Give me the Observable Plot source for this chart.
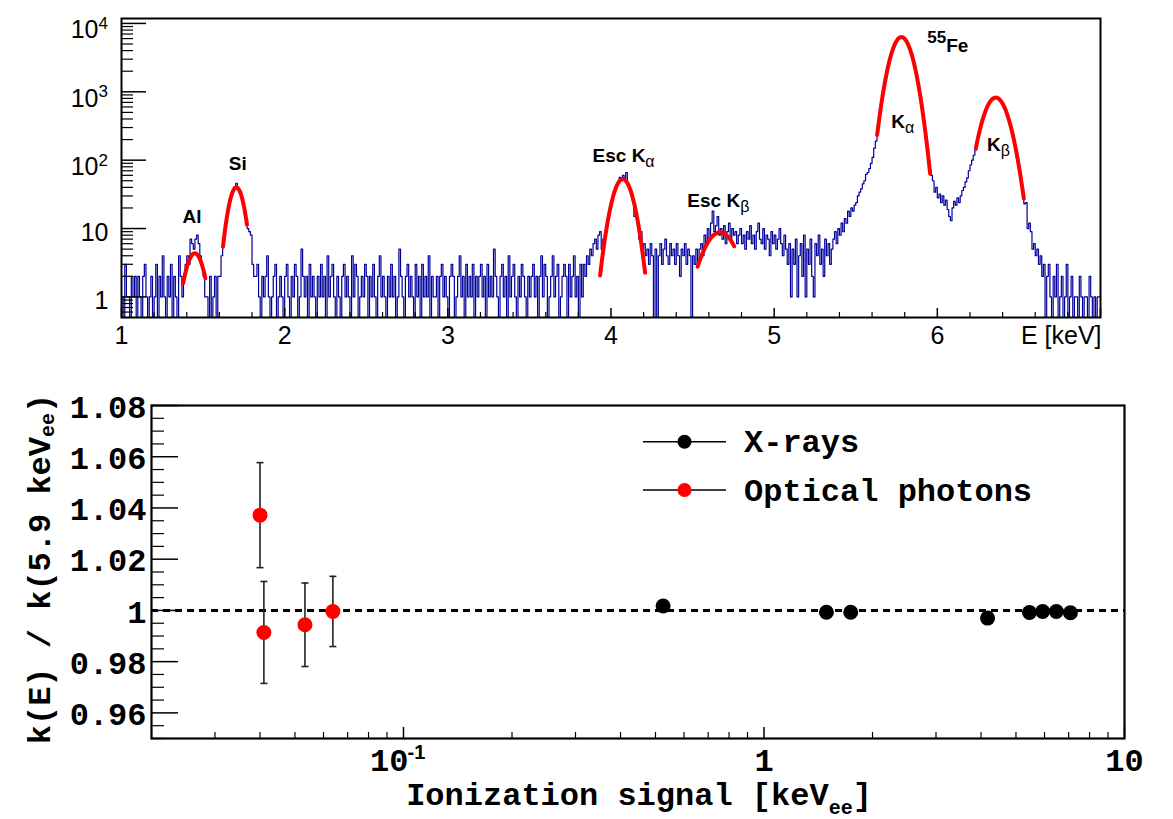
<!DOCTYPE html>
<html>
<head>
<meta charset="utf-8">
<script src="https://cdn.jsdelivr.net/npm/d3@7"></script>
<script src="https://cdn.jsdelivr.net/npm/@observablehq/plot@0.6"></script>
<style>
  body { margin: 0; background: #fff; }
  #chart { position: relative; width: 1173px; height: 819px; background: #fff; }
  #chart svg { position: absolute; left: 0; overflow: visible; }
</style>
</head>
<body>
<div id="chart"></div>
<script>
// ---------- Energy spectrum (top) ----------
// Histogram: 0.01 keV bins starting at 1.00 keV
const binLow = 1.0;
const binWidth = 0.01;
const counts = [
  // 1.00 - 1.37
  1,0,3,1,1,0,2,1,2,0, 2,1,0,2,3,1,0,1,2,0, 1,3,0,2,1,4,1,0,2,1, 3,0,2,1,0,4,2,1,
  // 1.38 - 1.51 (Al)
  2,3,4,3,7,6,5,7,8,6,4,3,2,1,
  // 1.52 - 1.59
  1,0,2,0,1,2,0,2,
  // 1.60 - 1.81 (Si)
  2,4,6,10,15,19,26,30,36,41,46,37,36,29,25,19,14,10,9,8,3,2,
  // 1.82 - 3.87
  2,3,1,0,2,1,2,4,1,0,
  1,2,3,0,1,2,1,0,2,3,
  1,0,2,1,3,2,0,1,5,2,
  1,2,0,3,1,2,1,0,2,1,
  3,1,2,0,4,1,2,3,1,0,
  2,1,0,2,3,1,2,1,0,4,
  1,3,2,0,1,2,1,3,2,0,
  2,1,3,1,0,2,4,1,2,1,
  0,2,1,3,1,2,0,1,5,2,
  1,0,2,3,1,2,1,0,3,1,
  2,0,3,1,2,1,4,0,2,1,
  1,2,0,2,3,1,2,1,0,2,
  3,2,0,1,2,4,1,2,0,3,
  1,2,1,3,0,2,1,2,3,1,
  2,0,3,1,2,1,5,2,1,0,
  2,3,1,2,0,4,1,2,3,1,
  0,2,1,3,2,1,0,2,1,2,
  3,1,2,0,2,4,1,3,2,0,
  1,2,4,1,2,3,0,1,2,3,
  2,0,3,1,2,4,1,2,0,3,
  1,3,2,4,3,5,
  // 3.88 - 4.21 (escape K-alpha)
  4,6,7,5,8,9,5,7,8,11, 15,19,24,31,36,43,48,56,50,60, 55,66,42,39,32,26,15,17,12,7, 9,5,6,4,
  // 4.22 - 4.52
  5,3,6,4,0,5,0,4,6,3, 5,7,4,3,6,4,5,3,6,4, 2,5,4,6,3,5,4,0,4,3, 5,
  // 4.53 - 4.78 (escape K-beta)
  3,5,6,4,8,6,10,7,12,18, 9,11,15,8,10,7,11,6,9,12, 7,10,8,9,6,8,
  // 4.79 - 5.09
  10,6,8,5,9,7,11,6,8,5, 9,12,7,6,10,5,8,7,4,9, 6,8,5,7,10,6,4,8,5,3, 6,
  // 5.10 - 5.35
  1,5,3,7,1,4,6,2,8,1, 5,3,7,2,1,6,4,8,3,5, 2,7,4,6,3,5,
  // 5.36 - 5.62
  7,9,6,10,8,12,9,14,12,18, 15,20,18,22,24,30,34,38,45,50, 62,66,75,90,110,150,190,
  // 5.63 - 5.95 (55Fe K-alpha)
  277,420,619,884,1227,1650,2156,2735,3368,4025, 4670,5260,5750,6103,6287,6287,6103,5750,5260,4670,
  4025,3368,2735,2156,1650,1227,884,619,420,277, 177,110,72,
  // 5.96 - 6.23
  60,50,34,40,28,32,24,30,22,26, 19,15,13,20,25,22,28,24,30,36, 40,48,55,70,85,100,118,140,
  // 6.24 - 6.53 (55Fe K-beta)
  190,243,305,373,446,521,595,665,725,774, 806,840,835,795,756,703,638,566,491,416,
  345,279,221,171,129,95,69,49,34,23,
  // 6.54 - 6.99
  24,10,12,9,5,6,4,5,3,4, 2,3,0,2,3,1,0,2,1,3, 0,1,2,0,1,3,0,1,2,0, 1,1,0,2,1,0,1,1,0,2, 1,0,1,0,1,1
];

// Gaussian fits to the peaks
const fitPeak  = ["Al", "Si", "Esc Ka", "Esc Kb", "Ka", "Kb"];
const fitMean  = [1.449, 1.704, 4.072, 4.668, 5.780, 6.358];
const fitSigma = [0.050, 0.041, 0.0545, 0.090, 0.058, 0.066];
const fitAmp   = [4.35, 40, 53, 8.8, 6310, 822];
const fitLow   = [1.378, 1.622, 3.933, 4.531, 5.631, 6.236];
const fitHigh  = [1.514, 1.769, 4.209, 4.755, 5.956, 6.530];

// Peak annotations (anchored in keV / counts)
const peakLabels = [
  {main: "Al",    e: 1.435, c: 11.8, anchor: "middle"},
  {main: "Si",    e: 1.716, c: 70.6, anchor: "middle"},
  {main: "Esc K", sub: "α", e: 3.89,  c: 92.4, anchor: "start"},
  {main: "Esc K", sub: "β", e: 4.471, c: 20.3, anchor: "start"},
  {sup: "55", main: "Fe",   e: 5.941, c: 3755, anchor: "start"},
  {main: "K", sub: "α",     e: 5.72,  c: 290,  anchor: "start"},
  {main: "K", sub: "β",     e: 6.308, c: 134,  anchor: "start"}
];

const topXLabels = [1, 2, 3, 4, 5, 6];
const topYDecades = [1, 10, 100, 1000, 10000];

// ---------- Calibration ratio (bottom) ----------
const xrayEnergy = [0.525, 1.49, 1.74, 4.17, 5.45, 5.93, 6.47, 7.08];
const xrayRatio  = [1.0017, 0.9993, 0.9993, 0.9970, 0.9992, 0.9996, 0.9996, 0.9991];

const opticalEnergy = [0.0400, 0.0410, 0.0533, 0.0637];
const opticalRatio  = [1.0372, 0.9914, 0.9944, 0.9996];
const opticalError  = [0.0205, 0.0199, 0.0163, 0.0137];

const seriesNames  = ["X-rays", "Optical photons"];
const seriesColors = ["#000000", "#ff0000"];

const botYLabels = [0.96, 0.98, 1.00, 1.02, 1.04, 1.06, 1.08];

// ================= drawing =================
const chart = document.getElementById("chart");
const SANS = "Liberation Sans, Arial, Helvetica, sans-serif";
const MONO = "Liberation Mono, Courier New, monospace";

// --- top panel ---
const T = {w: 1173, h: 360, ml: 121, mr: 73, mt: 18, mb: 43};
const tIW = T.w - T.ml - T.mr, tIH = T.h - T.mt - T.mb;
const yMinTop = 0.5;

const hist = counts.map((c, i) => ({e: binLow + i * binWidth, c: Math.max(c, yMinTop)}));
hist.push({e: binLow + counts.length * binWidth, c: hist[hist.length - 1].c});

const fitCurves = fitPeak.map((p, k) => {
  const pts = [];
  const n = 80;
  for (let j = 0; j <= n; j++) {
    const e = fitLow[k] + (fitHigh[k] - fitLow[k]) * j / n;
    pts.push({e, c: fitAmp[k] * Math.exp(-((e - fitMean[k]) ** 2) / (2 * fitSigma[k] ** 2))});
  }
  return pts;
});

const xMinorTop = d3.range(1, 7.001, 0.2).map(v => +v.toFixed(2)).filter(v => Math.abs(v - Math.round(v)) > 1e-6);
const yMinorTop = [];
[0.1, 1, 10, 100, 1000].forEach(dec => { for (let m = 2; m <= 9; m++) { const v = m * dec; if (v >= yMinTop && v <= 11800) yMinorTop.push(v); } });

const topPlot = Plot.plot({
  width: T.w, height: T.h,
  marginLeft: T.ml, marginRight: T.mr, marginTop: T.mt, marginBottom: T.mb,
  style: {background: "transparent", overflow: "visible", fontFamily: SANS},
  x: {domain: [1, 7], axis: null},
  y: {type: "log", domain: [yMinTop, 11800], axis: null},
  marks: [
    Plot.line(hist, {x: "e", y: "c", curve: "step-after", stroke: "#000099", strokeWidth: 1.2, clip: true}),
    ...fitCurves.map(pts => Plot.line(pts, {x: "e", y: "c", stroke: "#ff0000", strokeWidth: 4})),
    // inward ticks
    Plot.tickX(topXLabels.concat([7]), {x: d => d, insetTop: tIH - 9, stroke: "black", strokeWidth: 1.5}),
    Plot.tickX(xMinorTop, {x: d => d, insetTop: tIH - 5, stroke: "black", strokeWidth: 1.2}),
    Plot.tickY(topYDecades, {y: d => d, insetRight: tIW - 25, stroke: "black", strokeWidth: 1.5}),
    Plot.tickY(yMinorTop, {y: d => d, insetRight: tIW - 12, stroke: "black", strokeWidth: 1.2}),
    // tick labels
    Plot.text(topXLabels, {x: d => d, text: d => String(d), frameAnchor: "bottom", lineAnchor: "bottom", dy: 26, fontSize: 25, fontFamily: SANS, fill: "black"}),
    Plot.text(topYDecades.filter(d => d < 100), {y: d => d, text: d => String(d), frameAnchor: "left", textAnchor: "end", lineAnchor: "middle", dx: -13, dy: 4, fontSize: 25, fontFamily: SANS, fill: "black"}),
    Plot.text(topYDecades.filter(d => d >= 100), {y: d => d, text: () => "10", frameAnchor: "left", textAnchor: "end", lineAnchor: "middle", dx: -23, dy: 7, fontSize: 25, fontFamily: SANS, fill: "black"}),
    Plot.text(topYDecades.filter(d => d >= 100), {y: d => d, text: d => String(Math.round(Math.log10(d))), frameAnchor: "left", textAnchor: "start", lineAnchor: "middle", dx: -23, dy: 0, fontSize: 17, fontFamily: SANS, fill: "black"}),
    Plot.text(["E [keV]"], {text: d => d, frameAnchor: "bottom-right", textAnchor: "end", lineAnchor: "bottom", dx: 1, dy: 26, fontSize: 25, fontFamily: SANS, fill: "black"}),
    Plot.frame({stroke: "black", strokeWidth: 2})
  ]
});
topPlot.style.top = "0px";
chart.appendChild(topPlot);

// peak labels with sub/superscripts
const tsx = topPlot.scale("x"), tsy = topPlot.scale("y");
peakLabels.forEach(a => {
  const t = d3.select(topPlot).append("text")
    .attr("x", tsx.apply(a.e)).attr("y", tsy.apply(a.c))
    .attr("text-anchor", a.anchor)
    .attr("font-family", SANS).attr("font-weight", "bold").attr("font-size", 19)
    .attr("fill", "black");
  if (a.sup) {
    t.append("tspan").text(a.sup).attr("font-size", 17).attr("dy", -9);
    t.append("tspan").text(a.main).attr("dy", 9);
  } else {
    t.append("tspan").text(a.main);
  }
  if (a.sub) {
    t.append("tspan").text(a.sub).attr("font-size", 16).attr("font-weight", "normal").attr("dy", 5);
  }
});

// --- bottom panel ---
const B = {w: 1173, h: 459, ml: 151, mr: 49, mt: 45, mb: 81, top: 360};
const bIW = B.w - B.ml - B.mr, bIH = B.h - B.mt - B.mb;

const xrays = xrayEnergy.map((e, i) => ({e, r: xrayRatio[i]}));
const optical = opticalEnergy.map((e, i) => ({e, r: opticalRatio[i], lo: opticalRatio[i] - opticalError[i], hi: opticalRatio[i] + opticalError[i]}));

const xMajorBot = [0.1, 1, 10];
const xMinorBot = [];
[0.01, 0.1, 1].forEach(dec => { for (let m = 2; m <= 9; m++) { const v = m * dec; if (v >= 0.02 && v <= 10) xMinorBot.push(+v.toFixed(3)); } });
const yMinorBot = d3.range(0, 27).map(i => +(0.95 + i * 0.005).toFixed(3)).filter(v => Math.abs(v * 50 - Math.round(v * 50)) > 1e-6);

// horizontal cap for error bars
const capSymbol = {
  draw(ctx, size) {
    const r = Math.sqrt(size / Math.PI);
    ctx.moveTo(-r, 0);
    ctx.lineTo(r, 0);
  }
};

const botPlot = Plot.plot({
  width: B.w, height: B.h,
  marginLeft: B.ml, marginRight: B.mr, marginTop: B.mt, marginBottom: B.mb,
  style: {background: "transparent", overflow: "visible", fontFamily: MONO},
  x: {type: "log", domain: [0.02, 10], axis: null},
  y: {domain: [0.95, 1.08], axis: null},
  marks: [
    Plot.ruleY([1], {stroke: "black", strokeWidth: 3, strokeDasharray: "7,5"}),
    Plot.ruleX(optical, {x: "e", y1: "lo", y2: "hi", stroke: "#222", strokeWidth: 1.6}),
    Plot.dot(optical, {x: "e", y: "lo", symbol: capSymbol, r: 3.5, stroke: "#222", strokeWidth: 1.6, fill: "none"}),
    Plot.dot(optical, {x: "e", y: "hi", symbol: capSymbol, r: 3.5, stroke: "#222", strokeWidth: 1.6, fill: "none"}),
    Plot.dot(optical, {x: "e", y: "r", r: 7.5, fill: seriesColors[1], stroke: "none"}),
    Plot.dot(xrays, {x: "e", y: "r", r: 7.5, fill: seriesColors[0], stroke: "none"}),
    // inward ticks
    Plot.tickX(xMajorBot, {x: d => d, insetTop: bIH - 11, stroke: "black", strokeWidth: 1.5}),
    Plot.tickX(xMinorBot, {x: d => d, insetTop: bIH - 6, stroke: "black", strokeWidth: 1.2}),
    Plot.tickY(botYLabels, {y: d => d, insetRight: bIW - 27, stroke: "black", strokeWidth: 1.5}),
    Plot.tickY(yMinorBot, {y: d => d, insetRight: bIW - 13, stroke: "black", strokeWidth: 1.2}),
    // tick labels
    Plot.text(botYLabels, {y: d => d, text: d => (Math.abs(d - 1) < 1e-9 ? "1" : d.toFixed(2)), frameAnchor: "left", textAnchor: "end", lineAnchor: "middle", dx: -5, dy: 2, fontSize: 32, fontWeight: "bold", fontFamily: MONO, fill: "black"}),
    Plot.text(xMajorBot.filter(d => d >= 1), {x: d => d, text: d => String(d), frameAnchor: "bottom", lineAnchor: "bottom", dy: 32, fontSize: 32, fontWeight: "bold", fontFamily: MONO, fill: "black"}),
    Plot.text([0.1], {x: d => d, text: () => "10", frameAnchor: "bottom", textAnchor: "end", lineAnchor: "bottom", dx: 5, dy: 32, fontSize: 32, fontWeight: "bold", fontFamily: MONO, fill: "black"}),
    Plot.text([0.1], {x: d => d, text: () => "-1", frameAnchor: "bottom", textAnchor: "start", lineAnchor: "bottom", dx: 4, dy: 20, fontSize: 20, fontWeight: "bold", fontFamily: SANS, fill: "black"}),
    Plot.frame({stroke: "black", strokeWidth: 2.2})
  ]
});
botPlot.style.top = B.top + "px";
chart.appendChild(botPlot);

const bsvg = d3.select(botPlot);

// x title
const xt = bsvg.append("text")
  .attr("x", 639).attr("y", 445).attr("text-anchor", "middle")
  .attr("font-family", MONO).attr("font-weight", "bold").attr("font-size", 32).attr("fill", "black");
xt.append("tspan").text("Ionization signal [keV");
xt.append("tspan").text("ee").attr("font-size", 20).attr("dy", 9);
xt.append("tspan").text("]").attr("dy", -9);

// y title
const yt = bsvg.append("text")
  .attr("transform", "translate(50,209) rotate(-90)").attr("text-anchor", "middle")
  .attr("font-family", MONO).attr("font-weight", "bold").attr("font-size", 32).attr("fill", "black");
yt.append("tspan").text("k(E) / k(5.9 keV");
yt.append("tspan").text("ee").attr("font-size", 20).attr("dy", 4);
yt.append("tspan").text(")").attr("dy", -4);

// legend
seriesNames.forEach((name, i) => {
  const y = 81.7 + i * 48.3;
  bsvg.append("line").attr("x1", 643).attr("x2", 726).attr("y1", y).attr("y2", y)
    .attr("stroke", "black").attr("stroke-width", 1.5);
  bsvg.append("circle").attr("cx", 684.5).attr("cy", y).attr("r", 7).attr("fill", seriesColors[i]);
  bsvg.append("text").attr("x", 744).attr("y", y + 10.5).attr("text-anchor", "start")
    .attr("font-family", MONO).attr("font-weight", "bold").attr("font-size", 32).attr("fill", "black")
    .text(name);
});
</script>
</body>
</html>
